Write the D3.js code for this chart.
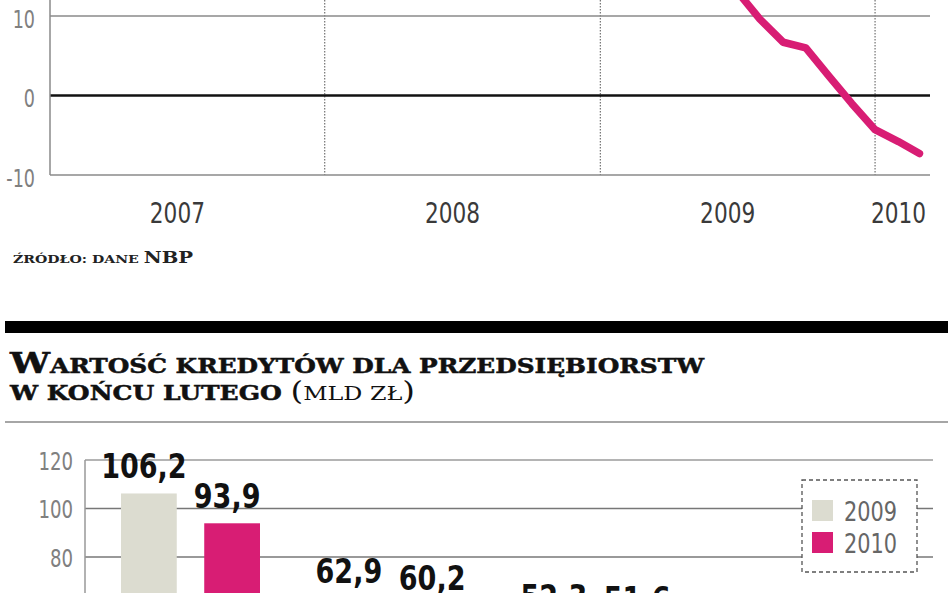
<!DOCTYPE html>
<html lang="pl">
<head>
<meta charset="UTF-8">
<title>Kredyty dla przedsiębiorstw</title>
<style>
  body, html { margin: 0; padding: 0; background: #fff; }
  svg { display: block; }
  .narrow { font-family: "DejaVu Sans Condensed", "DejaVu Sans", sans-serif; font-stretch: condensed; }
  .slab { font-family: "DejaVu Serif", serif; }
  .num { font-family: "DejaVu Sans Condensed", "DejaVu Sans", sans-serif; font-stretch: condensed; font-weight: bold; }
</style>
</head>
<body>
<div id="chart"></div>
<script src="https://d3js.org/d3.v7.min.js"></script>
<script>
// --- line chart: loan growth, % y/y (monthly, plotted at month end)
const lineStart = "2007-01";
const lineValues = [
  13.5, 14, 15, 16, 17, 18, 19.5, 21, 22, 23.5, 24.5, 25.5,   // 2007
  26, 27, 27.5, 28, 28.5, 29, 29.5, 30, 30, 29.5, 29, 28,     // 2008
  26, 24, 22, 19.5, 17, 13.2, 9.6, 6.7, 6.0, 2.4, -1.0, -4.3, // 2009
  -5.8, -7.3                                                  // 2010
];
const lineTicks = [10, 0, -10];
const years = [2007, 2008, 2009, 2010];

// --- bar chart: loans to companies at end of February (bn zł)
const barCategories = ["bieżące", "inwestycyjne", "na nieruchomości", "pozostałe"];
const values2009 = [106.2, 62.9, 52.3, 21.4];
const values2010 = [93.9, 60.2, 51.6, 19.8];
const barSeries = ["2009", "2010"];
const barTicks = [120, 100, 80, 60, 40, 20, 0];

const W = 948, H = 593;
const pink = "#d81d74", beige = "#dcdcd0";

const svg = d3.select("#chart").append("svg")
  .attr("width", W).attr("height", H);

// squeeze text horizontally (the original face is a condensed one)
function squeeze(sel, fx, fy, sx) {
  sel.attr("x", 0).attr("y", 0)
    .attr("transform", (d, i) => `translate(${fx(d, i)},${fy(d, i)}) scale(${sx},1)`);
}

// ================= top: line chart =================
const parseMonth = d3.timeParse("%Y-%m");
const t0 = parseMonth(lineStart);
const lineData = lineValues.map((v, i) => ({
  date: d3.timeMonth.offset(t0, i + 1), // end of month
  value: v
}));

const x = d3.scaleTime()
  .domain([new Date(2007, 0, 1), new Date(2010, 2, 15)])
  .range([50, 930]);
const y = d3.scaleLinear().domain([-10, 10]).range([175, 16]);

const topG = svg.append("g");

// vertical dotted year separators
topG.selectAll("line.sep")
  .data(years.slice(1))
  .join("line")
  .attr("x1", d => x(new Date(d, 0, 1))).attr("x2", d => x(new Date(d, 0, 1)))
  .attr("y1", 0).attr("y2", y(-10))
  .attr("stroke", "#555").attr("stroke-width", 1)
  .attr("stroke-dasharray", "1.5,1.5");

// horizontal grid
topG.selectAll("line.grid")
  .data(lineTicks)
  .join("line")
  .attr("x1", x.range()[0]).attr("x2", x.range()[1])
  .attr("y1", d => y(d)).attr("y2", d => y(d))
  .attr("stroke", d => d === 0 ? "#111" : "#8a8a8a")
  .attr("stroke-width", d => d === 0 ? 2.5 : 1.5);

// left axis line
topG.append("line")
  .attr("x1", 50).attr("x2", 50).attr("y1", 0).attr("y2", y(-10))
  .attr("stroke", "#8a8a8a").attr("stroke-width", 1.5);

topG.selectAll("text.ytick")
  .data(lineTicks)
  .join("text")
  .attr("class", "narrow")
  .attr("text-anchor", "end").attr("dominant-baseline", "central")
  .attr("font-size", 25).attr("fill", "#808080")
  .text(d => d)
  .call(squeeze, () => 35, d => y(d) + 3, 0.78);

// year labels centered in the visible part of each year
topG.selectAll("text.year")
  .data(years)
  .join("text")
  .attr("class", "narrow")
  .attr("text-anchor", "middle")
  .attr("font-size", 28).attr("fill", "#3a3a3a")
  .text(d => d)
  .call(squeeze, d => {
    const a = Math.max(x(new Date(d, 0, 1)), x.range()[0]);
    const b = Math.min(x(new Date(d + 1, 0, 1)), x.range()[1]);
    return (a + b) / 2 - (d === 2010 ? 4 : 10);
  }, () => 223, 0.86);

topG.append("path")
  .datum(lineData)
  .attr("fill", "none")
  .attr("stroke", pink).attr("stroke-width", 7.5)
  .attr("stroke-linejoin", "round").attr("stroke-linecap", "round")
  .attr("d", d3.line().x(d => x(d.date)).y(d => y(d.value)));

// source
const src = svg.append("text").attr("class", "slab")
  .attr("x", 13).attr("y", 263)
  .attr("font-weight", "bold").attr("fill", "#222")
  .attr("textLength", 180).attr("lengthAdjust", "spacingAndGlyphs");
src.append("tspan").attr("font-size", 11.5).text("ŹRÓDŁO: DANE ");
src.append("tspan").attr("font-size", 16).text("NBP");

// ================= bottom: bar chart =================
svg.append("rect")
  .attr("x", 5).attr("y", 321).attr("width", W - 5).attr("height", 12)
  .attr("fill", "#000");

const t1 = svg.append("text").attr("class", "slab")
  .attr("x", 10).attr("y", 373)
  .attr("font-weight", "bold").attr("fill", "#111")
  .attr("stroke", "#111").attr("stroke-width", 0.5)
  .attr("textLength", 694).attr("lengthAdjust", "spacingAndGlyphs");
t1.append("tspan").attr("font-size", 28).text("W");
t1.append("tspan").attr("font-size", 19.5).text("ARTOŚĆ KREDYTÓW DLA PRZEDSIĘBIORSTW");

const t2 = svg.append("text").attr("class", "slab")
  .attr("x", 10).attr("y", 400).attr("fill", "#111")
  .attr("textLength", 405).attr("lengthAdjust", "spacingAndGlyphs");
t2.append("tspan").attr("font-weight", "bold").attr("font-size", 20)
  .attr("stroke", "#111").attr("stroke-width", 0.5).text("W KOŃCU LUTEGO ");
t2.append("tspan").attr("font-size", 26).text("(");
t2.append("tspan").attr("font-size", 19).text("MLD ZŁ");
t2.append("tspan").attr("font-size", 26).text(")");

svg.append("line")
  .attr("x1", 5).attr("x2", W).attr("y1", 422).attr("y2", 422)
  .attr("stroke", "#888").attr("stroke-width", 1.5);

const yb = d3.scaleLinear().domain([0, 120]).range([751, 460]);
const x0 = d3.scaleBand().domain(barCategories).range([88, 908]);
const x1 = d3.scaleBand().domain(barSeries).range([33, 172]).paddingInner(0.33);

const bottomG = svg.append("g");

bottomG.selectAll("line.bgrid")
  .data(barTicks)
  .join("line")
  .attr("x1", 85).attr("x2", 933)
  .attr("y1", d => yb(d)).attr("y2", d => yb(d))
  .attr("stroke", d => d === 120 ? "#b4b4b4" : "#777")
  .attr("stroke-width", d => d === 120 ? 2 : 1.5);

bottomG.append("line")
  .attr("x1", 85).attr("x2", 85).attr("y1", yb(120)).attr("y2", yb(0))
  .attr("stroke", "#999").attr("stroke-width", 1.5);

bottomG.selectAll("text.btick")
  .data(barTicks)
  .join("text")
  .attr("class", "narrow")
  .attr("text-anchor", "end").attr("dominant-baseline", "central")
  .attr("font-size", 24).attr("fill", "#808080")
  .text(d => d)
  .call(squeeze, () => 73, d => yb(d) + 1, 0.84);

const barRows = barCategories.map((c, i) => ({
  cat: c,
  vals: [{ s: "2009", v: values2009[i] }, { s: "2010", v: values2010[i] }]
}));

const groups = bottomG.selectAll("g.grp")
  .data(barRows)
  .join("g")
  .attr("transform", d => `translate(${x0(d.cat)},0)`);

groups.selectAll("rect")
  .data(d => d.vals)
  .join("rect")
  .attr("x", d => x1(d.s)).attr("width", x1.bandwidth())
  .attr("y", d => yb(d.v)).attr("height", d => yb(0) - yb(d.v))
  .attr("fill", d => d.s === "2009" ? beige : pink);

groups.selectAll("text")
  .data(d => d.vals)
  .join("text")
  .attr("class", "num")
  .attr("text-anchor", "middle")
  .attr("font-size", 33).attr("fill", "#111")
  .text(d => d3.format(".1f")(d.v).replace(".", ","))
  .call(squeeze, d => x1(d.s) + x1.bandwidth() / 2 - 5, d => yb(d.v) - 15, 0.91);

// legend
const lg = svg.append("g").attr("transform", "translate(802,480)");
lg.append("rect")
  .attr("width", 115).attr("height", 92)
  .attr("fill", "#fff").attr("stroke", "#555").attr("stroke-width", 1.3)
  .attr("stroke-dasharray", "4,3");
const li = lg.selectAll("g").data(barSeries).join("g")
  .attr("transform", (d, i) => `translate(10,${20 + i * 32})`);
li.append("rect").attr("width", 21).attr("height", 21)
  .attr("fill", d => d === "2009" ? beige : pink);
li.append("text").attr("class", "narrow")
  .attr("dominant-baseline", "central")
  .attr("font-size", 27).attr("fill", "#666")
  .text(d => d)
  .call(squeeze, () => 32, () => 12, 0.86);
</script>
</body>
</html>
